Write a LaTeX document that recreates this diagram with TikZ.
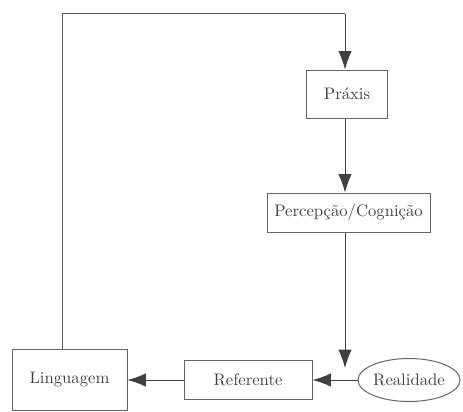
\documentclass[tikz,border=0pt]{standalone}
\usetikzlibrary{arrows.meta,shapes.geometric}
\tikzset{
  caixa/.style={draw=black!60, line width=0.6pt, text=black!75, inner sep=0pt},
  seta/.style={-{Latex[length=11pt,width=8pt]}, draw=black!75, line width=0.6pt},
  linha/.style={draw=black!65, line width=0.6pt}
}
\begin{document}
\begin{tikzpicture}[x=0.6pt,y=-0.6pt]
	\useasboundingbox (0,0) rectangle (463,411);
	\node[caixa, minimum width=48.6pt, minimum height=28.8pt] (praxis) at (347,94) {Práxis};
	\node[caixa, minimum width=97.8pt, minimum height=23.4pt] (percep) at (348.5,212.5) {Percepção/Cognição};
	\node[caixa, minimum width=69pt, minimum height=37pt] (ling) at (69.5,380) {Linguagem};
	\node[caixa, minimum width=76.8pt, minimum height=23.4pt] (refer) at (248,380) {Referente};
	\node[caixa, ellipse, minimum width=61.2pt, minimum height=25.8pt] (real) at (409,380) {Realidade};
	\coordinate (cantoE) at (62,14);
	\coordinate (cantoD) at (345,14);
	\coordinate (fim) at (345,368);
    % laco de cima
	\draw[linha] (ling.north -| cantoE) -- (cantoE) -- (cantoD);
	\draw[seta] (cantoD) -- (praxis.north -| cantoD);
	\draw[seta] (praxis.south -| cantoD) -- (percep.north -| cantoD);
	\draw[seta] (percep.south -| cantoD) -- (fim);
    % linha de baixo
	\draw[seta] (real) -- (refer);
	\draw[seta] (refer) -- (ling);
\end{tikzpicture}
\end{document}
